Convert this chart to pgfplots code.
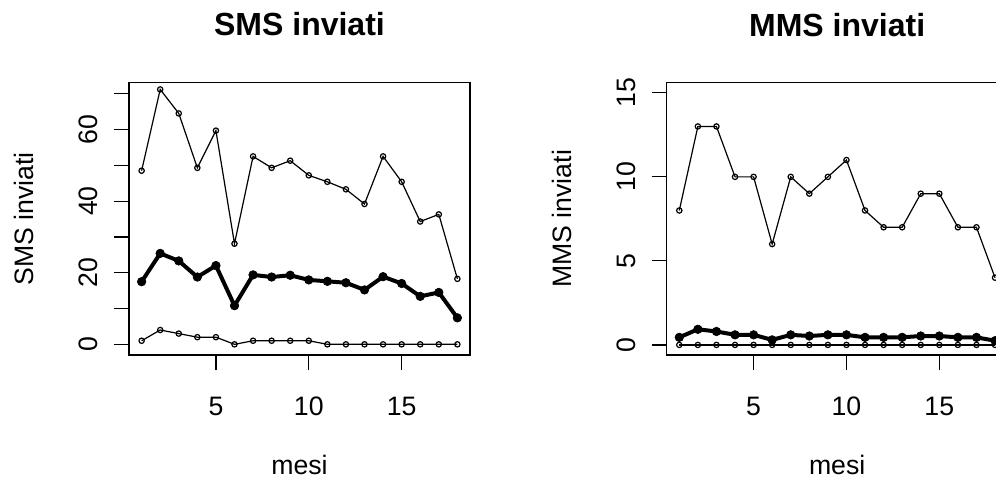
\documentclass[border=0pt]{standalone}
\usepackage{pgfplots}
\usepackage{pgfplotstable}
\pgfplotsset{compat=1.18}
\usepackage{fontspec}
\setmainfont{Liberation Sans}

\pgfplotstableread{
x smax smean smin mmax mmean mmin
1 48.5 17.5 1 8 0.45 0
2 71.2 25.4 4 13 0.93 0
3 64.5 23.3 3 13 0.80 0
4 49.3 18.8 2 10 0.60 0
5 59.7 22.0 2 10 0.60 0
6 28.1 10.8 0 6 0.30 0
7 52.5 19.4 1 10 0.60 0
8 49.3 18.8 1 9 0.53 0
9 51.3 19.3 1 10 0.60 0
10 47.2 18.0 1 11 0.60 0
11 45.4 17.6 0 8 0.45 0
12 43.3 17.2 0 7 0.45 0
13 39.2 15.2 0 7 0.45 0
14 52.5 18.9 0 9 0.53 0
15 45.4 17.0 0 9 0.53 0
16 34.3 13.4 0 7 0.45 0
17 36.3 14.5 0 7 0.45 0
18 18.3 7.4 0 4 0.25 0
}\data

\pgfplotsset{
  rstyle/.style={
    scale only axis,
    width=255.75pt, height=204.2pt,
    anchor=south west,
    xmin=0.32, xmax=18.68,
    xtick={5,10,15},
    tick align=outside,
    xtick pos=bottom, ytick pos=left,
    major tick length=11.25pt,
    /pgf/number format/assume math mode=true,
    axis line style={line width=0.9pt},
    every tick/.style={black, line width=0.9pt},
    tick label style={font=\fontsize{20}{24}\selectfont},
    label style={font=\fontsize{20}{24}\selectfont},
    title style={font=\fontsize{24}{28}\selectfont\bfseries, at={(axis description cs:0.5,1.179)}, anchor=base, yshift=-7.5pt},
    xticklabel style={anchor=base},
    xticklabel shift=33.75pt,
    yticklabel style={rotate=90, anchor=base},
    yticklabel shift=12pt,
    xlabel style={at={(axis description cs:0.5,-0.4407)}, anchor=base},
    ylabel style={at={(axis description cs:-0.2786,0.5)}, anchor=base},
    xlabel={mesi},
    clip=false,
  },
  thin/.style={black, line width=0.9pt, mark=o, mark size=2pt, mark options={fill=white, line width=0.9pt}},
  thick/.style={black, line width=3pt, mark=*, mark size=3.2pt, mark options={fill=black, line width=0.5pt}},
}

\begin{document}
\begin{tikzpicture}
\useasboundingbox (0,0) rectangle (747pt,360pt);
\clip (0,0) rectangle (747pt,360pt);
\begin{axis}[rstyle, at={(96.75pt,93.75pt)},
  ymin=-2.98, ymax=73.07,
  ytick={0,10,20,30,40,50,60,70},
  yticklabels={0,,20,,40,,60,},
  title={SMS inviati}, ylabel={SMS inviati}]
\addplot[thin] table[x=x, y=smax] {\data};
\addplot[thick] table[x=x, y=smean] {\data};
\addplot[thin] table[x=x, y=smin] {\data};
\end{axis}
\begin{axis}[rstyle, at={(500.0pt,93.75pt)},
  ymin=-0.6, ymax=15.6,
  ytick={0,5,10,15},
  title={MMS inviati}, ylabel={MMS inviati}]
\addplot[thin] table[x=x, y=mmax] {\data};
\addplot[thin] table[x=x, y=mmin] {\data};
\addplot[thick] table[x=x, y=mmean] {\data};
\end{axis}
\end{tikzpicture}
\end{document}
